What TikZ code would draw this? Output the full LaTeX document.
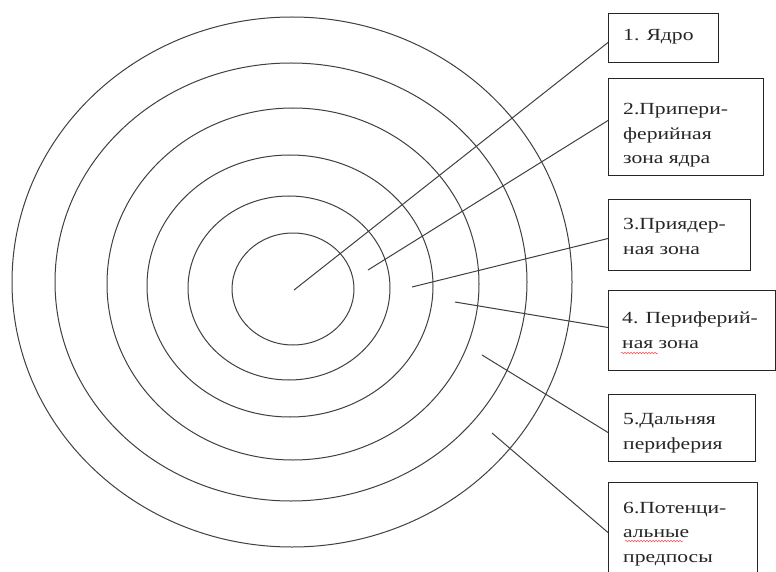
\documentclass[tikz,border=0pt]{standalone}
\usepackage{fontspec}
\setmainfont{Liberation Serif}[FakeStretch=1.27]
\usetikzlibrary{decorations.pathmorphing}
\tikzset{
  ring/.style={draw=black!75, line width=1pt},
  zone/.style={draw=black!85, line width=1pt, inner sep=0pt, anchor=north west},
  lbl/.style={anchor=base west, inner sep=0pt, align=left, text=black!85,
    font=\fontsize{17}{24.5}\selectfont},
  lead/.style={draw=black!75, line width=1pt},
  spell/.style={draw=red!70, line width=0.5pt, decorate,
    decoration={snake, amplitude=0.8pt, segment length=3pt}}
}
\begin{document}
\begin{tikzpicture}[x=1pt, y=-1pt]
\clip (0,0) rectangle (776,572);
\fill[white] (0,0) rectangle (776,572);
% rings
\draw[ring] (293,289) ellipse [x radius=61pt, y radius=56pt];
\draw[ring] (289,288) ellipse [x radius=101pt, y radius=92pt];
\draw[ring] (290,286) ellipse [x radius=143pt, y radius=131pt];
\draw[ring] (293,284) ellipse [x radius=186pt, y radius=176pt];
\draw[ring] (291,282) ellipse [x radius=236pt, y radius=219pt];
\draw[ring] (292,282) ellipse [x radius=280pt, y radius=265pt];
% boxes
\node[zone, minimum width=110pt, minimum height=49pt] (b1) at (608,13) {};
\node[zone, minimum width=155pt, minimum height=97pt] (b2) at (608,78) {};
\node[zone, minimum width=142pt, minimum height=71pt] (b3) at (608,199) {};
\node[zone, minimum width=167pt, minimum height=80pt] (b4) at (608,290) {};
\node[zone, minimum width=147pt, minimum height=67pt] (b5) at (608,394) {};
\node[zone, minimum width=149pt, minimum height=118pt] (b6) at (608,482) {};
% labels (anchor = baseline of the last line)
\node[lbl] (t1) at (623,41) {1. Ядро};
\node[lbl] (t2) at (623,164) {2.Припери-\\ферийная\\зона ядра};
\node[lbl] (t3) at (623,254) {3.Приядер-\\ная зона};
\node[lbl] (t4) at (622,348) {4. Периферий-\\ная зона};
\node[lbl] (t5) at (623,449) {5.Дальняя\\периферия};
\node[lbl] (t6) at (623,562) {6.Потенци-\\альные\\предпосы};
% spell-check underlines
\coordinate (s4a) at (621,353); \coordinate (s4b) at (658,353);
\coordinate (s6a) at (625,541); \coordinate (s6b) at (683,541);
\draw[spell] (s4a) -- (s4b);
\draw[spell] (s6a) -- (s6b);
% leader lines
\coordinate (c1) at (294,290);
\coordinate (c2) at (368,270);
\coordinate (c3) at (412,287);
\coordinate (c4) at (455,302);
\coordinate (c5) at (482,355);
\coordinate (c6) at (492,433);
\draw[lead] (c1) -- ([yshift=-4.5pt]b1.west);
\draw[lead] (c2) -- ([yshift=6.5pt]b2.west);
\draw[lead] (c3) -- ([yshift=-3.5pt]b3.west);
\draw[lead] (c4) -- ([yshift=3pt]b4.west);
\draw[lead] (c5) -- ([yshift=-4.5pt]b5.west);
\draw[lead] (c6) -- ([yshift=9pt]b6.west);
\end{tikzpicture}
\end{document}
